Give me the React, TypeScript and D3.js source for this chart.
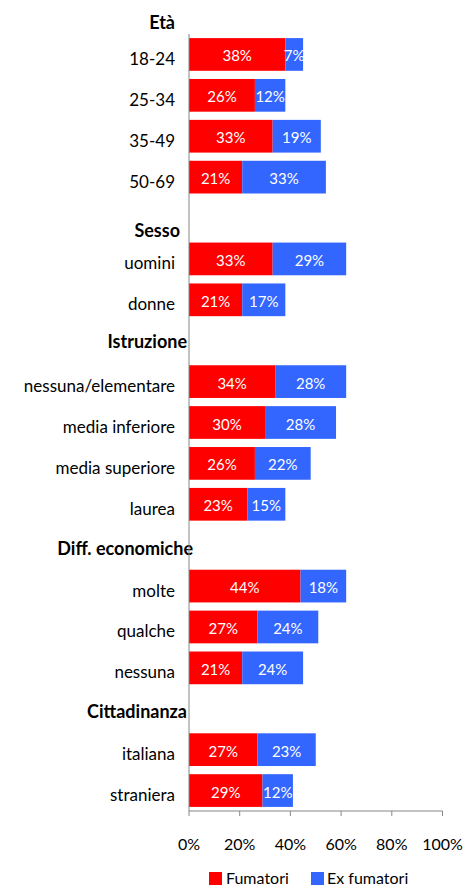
import React from 'react';
import * as d3 from 'd3';

// gruppi e categorie (in ordine dall'alto)
const groupTitles = ['Età', 'Sesso', 'Istruzione', 'Diff. economiche', 'Cittadinanza'];
const groupSizes = [4, 2, 4, 3, 2];
const categories = [
  '18-24', '25-34', '35-49', '50-69',
  'uomini', 'donne',
  'nessuna/elementare', 'media inferiore', 'media superiore', 'laurea',
  'molte', 'qualche', 'nessuna',
  'italiana', 'straniera',
];
const fumatori = [38, 26, 33, 21, 33, 21, 34, 30, 26, 23, 44, 27, 21, 27, 29];
const exFumatori = [7, 12, 19, 33, 29, 17, 28, 28, 22, 15, 18, 24, 24, 23, 12];
const xTicks = [0, 20, 40, 60, 80, 100];
const seriesNames = ['Fumatori', 'Ex fumatori'];

const W = 466;
const H = 888;
const FONT = 'Lato, "Open Sans", sans-serif';
const RED = '#FF0000';
const BLUE = '#3366FF';
const GRID = '#868686';

// piccoli aggiustamenti dei titoli di gruppo (come li disegna Excel)
const headerDx = [0, 5, 12, 18, 12];
const headerDy = [15.5, 18.5, 7, 10, 9.5];

type Row =
  | { kind: 'header'; key: string; label: string; g: number }
  | { kind: 'bar'; key: string; label: string; a: number; b: number };

const rows: Row[] = [];
{
  let c = 0;
  groupTitles.forEach((t, g) => {
    rows.push({ kind: 'header', key: 'h' + g, label: t, g });
    for (let i = 0; i < groupSizes[g]; i++, c++) {
      rows.push({ kind: 'bar', key: 'c' + c, label: categories[c], a: fumatori[c], b: exFumatori[c] });
    }
  });
}

const plotLeft = 189;
const plotRight = 442.5;
const plotTop = 34;
const plotBottom = 811;
const step = (plotBottom - plotTop) / (rows.length - 1);

const x = d3.scaleLinear().domain([0, 100]).range([plotLeft, plotRight]);
const y = d3
  .scaleBand<string>()
  .domain(rows.map((r) => r.key))
  .range([plotTop - step, plotBottom])
  .paddingInner(0.2)
  .paddingOuter(0.1);

const labelX = 175;

export default function App() {
  const bw = y.bandwidth();
  return (
    <svg width={W} height={H} style={{ position: 'absolute', left: 0, top: 0 }} fontFamily={FONT}>
      <rect width={W} height={H} fill="#fff" />
      {rows.map((r) => {
        const y0 = y(r.key)!;
        const cy = y0 + bw / 2;
        if (r.kind === 'header') {
          return (
            <text
              key={r.key}
              x={labelX + headerDx[r.g]}
              y={cy + headerDy[r.g]}
              textAnchor="end"
              fontSize={18}
              fontWeight="bold"
              fill="#000"
            >
              {r.label}
            </text>
          );
        }
        return (
          <g key={r.key}>
            <text x={labelX} y={cy + 10.5} textAnchor="end" fontSize={17} fill="#000">
              {r.label}
            </text>
            <rect x={x(0)} y={y0} width={x(r.a) - x(0)} height={bw} fill={RED} />
            <rect x={x(r.a)} y={y0} width={x(r.a + r.b) - x(r.a)} height={bw} fill={BLUE} />
            <text x={(x(0) + x(r.a)) / 2} y={cy + 7} textAnchor="middle" fontSize={15} fill="#fff">
              {r.a}%
            </text>
            <text x={(x(r.a) + x(r.a + r.b)) / 2} y={cy + 7} textAnchor="middle" fontSize={15} fill="#fff">
              {r.b}%
            </text>
          </g>
        );
      })}
      {/* assi */}
      <line x1={plotLeft} x2={plotLeft} y1={plotTop} y2={plotBottom} stroke={GRID} strokeWidth={1} />
      <line x1={plotLeft} x2={plotRight} y1={plotBottom} y2={plotBottom} stroke={GRID} strokeWidth={1} />
      {xTicks.map((t) => (
        <g key={t}>
          <line x1={x(t)} x2={x(t)} y1={plotBottom} y2={plotBottom + 5} stroke={GRID} strokeWidth={1} />
          <text x={x(t)} y={850} textAnchor="middle" fontSize={16} fill="#000">
            {t}%
          </text>
        </g>
      ))}
      {/* legenda */}
      <g>
        <rect x={209} y={872} width={13} height={13} fill={RED} />
        <text x={226} y={884} fontSize={16} fill="#000">
          {seriesNames[0]}
        </text>
        <rect x={311} y={872} width={13} height={13} fill={BLUE} />
        <text x={327} y={884} fontSize={16} fill="#000">
          {seriesNames[1]}
        </text>
      </g>
    </svg>
  );
}
